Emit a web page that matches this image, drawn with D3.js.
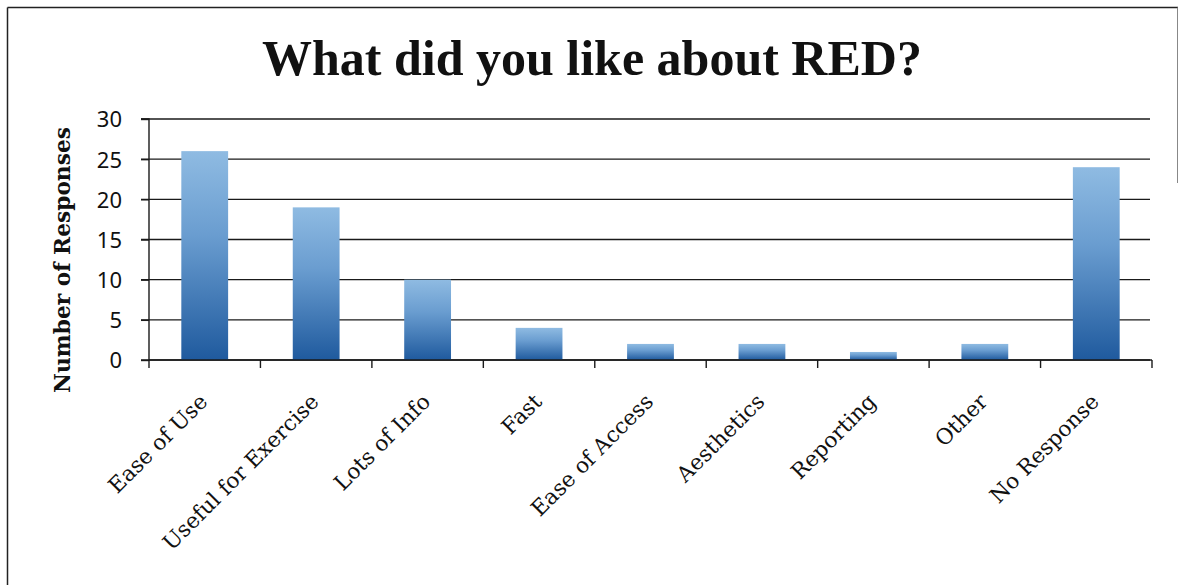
<!DOCTYPE html>
<html><head><meta charset="utf-8">
<script src="https://cdn.jsdelivr.net/npm/d3@7"></script>
<style>html,body{margin:0;padding:0;background:#fff;}svg{display:block;}</style>
</head><body>
<svg id="chart" width="1179" height="585"></svg>
<script>
const categories = ["Ease of Use","Useful for Exercise","Lots of Info","Fast","Ease of Access","Aesthetics","Reporting","Other","No Response"];
const values = [26,19,10,4,2,2,1,2,24];
const yTicks = [0,5,10,15,20,25,30];
const titleText = "What did you like about RED?";
const yLabel = "Number of Responses";

const svg = d3.select("#chart");
const m = {left:149, right:1152, top:119, bottom:360};

// frame (scanned border)
svg.append("line").attr("x1",7.5).attr("x2",1178).attr("y1",7.5).attr("y2",7.5).attr("stroke","#222").attr("stroke-width",1.5);
svg.append("line").attr("x1",7.5).attr("x2",7.5).attr("y1",7.5).attr("y2",585).attr("stroke","#222").attr("stroke-width",1.5);
svg.append("line").attr("x1",1177.5).attr("x2",1177.5).attr("y1",7.5).attr("y2",183).attr("stroke","#888").attr("stroke-width",1);

const defs = svg.append("defs");
const grad = defs.append("linearGradient").attr("id","barGrad").attr("x1",0).attr("x2",0).attr("y1",0).attr("y2",1);
grad.append("stop").attr("offset","0%").attr("stop-color","#8fbbe2");
grad.append("stop").attr("offset","40%").attr("stop-color","#6a9dd0");
grad.append("stop").attr("offset","100%").attr("stop-color","#1f5a9e");

const x = d3.scaleBand().domain(categories).range([m.left, m.right]).paddingInner(0.58).paddingOuter(0.29);
const y = d3.scaleLinear().domain([0,30]).range([m.bottom, m.top]);

// gridlines
svg.append("g").selectAll("line").data(yTicks).join("line")
  .attr("x1", m.left-8).attr("x2", m.right-2)
  .attr("y1", d=>y(d)).attr("y2", d=>y(d))
  .attr("stroke","#1a1a1a").attr("stroke-width",1.4);

// y axis
const yAxis = svg.append("g").attr("transform",`translate(${m.left},0)`)
  .call(d3.axisLeft(y).tickValues(yTicks).tickSize(8).tickPadding(19));
yAxis.select(".domain").attr("stroke","#1a1a1a").attr("stroke-width",1.4).attr("d",`M-8,${m.top}H0V${m.bottom}`);
yAxis.selectAll(".tick line").attr("stroke","#1a1a1a").attr("stroke-width",1.4);
yAxis.selectAll(".tick text").attr("font-family","'Noto Sans','Open Sans',sans-serif").attr("font-size",22).attr("fill","#111").attr("dy","0.36em");

// bars
svg.append("g").selectAll("rect").data(values).join("rect")
  .attr("x",(d,i)=>x(categories[i]))
  .attr("width",x.bandwidth())
  .attr("y",d=>y(d))
  .attr("height",d=>y(0)-y(d))
  .attr("fill","url(#barGrad)");

// x axis
const xTickPos = d3.range(categories.length+1).map(i=>m.left + i*(m.right-m.left)/categories.length);
svg.append("line").attr("x1",m.left).attr("x2",m.right).attr("y1",y(0)).attr("y2",y(0)).attr("stroke","#1a1a1a").attr("stroke-width",1.4);
svg.append("g").selectAll("line").data(xTickPos).join("line")
  .attr("x1",d=>d).attr("x2",d=>d).attr("y1",y(0)).attr("y2",y(0)+8)
  .attr("stroke","#1a1a1a").attr("stroke-width",1.4);

const xl = svg.append("g").selectAll("text").data(categories).join("text")
  .attr("transform",d=>`translate(${x(d)+x.bandwidth()/2+4},${y(0)+43}) rotate(-45)`)
  .attr("text-anchor","end")
  .attr("font-family","'DejaVu Serif',serif")
  .attr("font-size",20)
  .attr("fill","#111")
  .text(d=>d);
// fit label font so "Useful for Exercise" is ~210px long
{
  const n = xl.filter(d=>d==="Useful for Exercise").node();
  const L = n.getComputedTextLength();
  xl.attr("font-size", 20*210/L);
}

// title
svg.append("text").attr("x",592).attr("y",75)
  .attr("text-anchor","middle")
  .attr("font-family","'Liberation Serif',serif").attr("font-weight","bold")
  .attr("font-size",50).attr("fill","#111").text(titleText);

// y label
const yl = svg.append("text").attr("transform",`translate(70,260) rotate(-90)`)
  .attr("text-anchor","middle")
  .attr("font-family","'DejaVu Serif',serif").attr("font-weight","bold")
  .attr("font-size",20).attr("fill","#111").text(yLabel);
{
  const L = yl.node().getComputedTextLength();
  yl.attr("font-size", 20*266/L);
}
</script>
</body></html>
